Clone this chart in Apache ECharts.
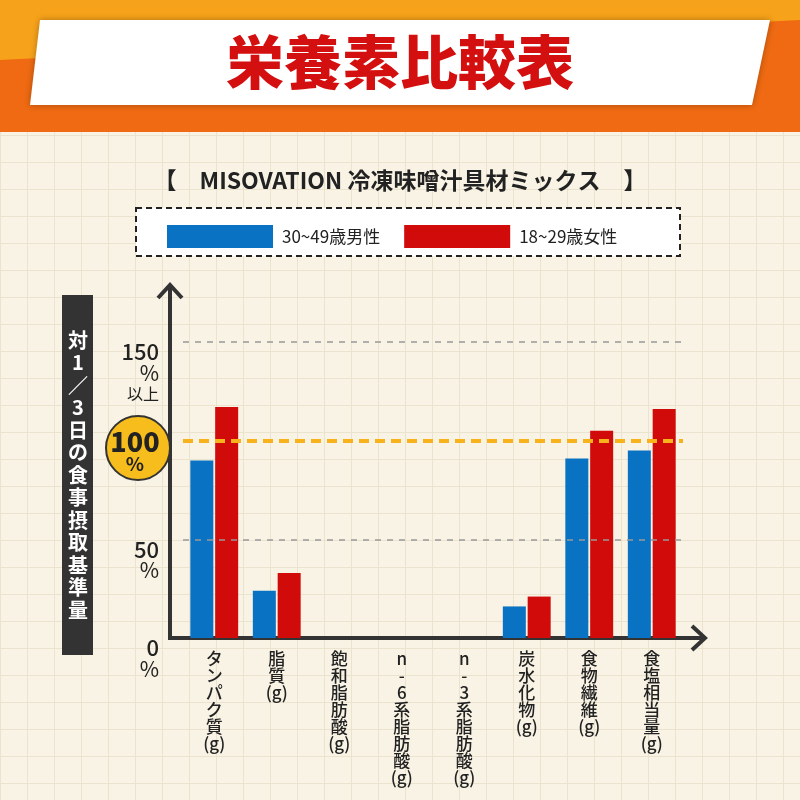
<!DOCTYPE html>
<html><head><meta charset="utf-8">
<script src="https://cdn.jsdelivr.net/npm/echarts@6/dist/echarts.min.js"></script>
<style>
html,body{margin:0;padding:0;}
#c{width:800px;height:800px;background-color:#f8f3e4;
background-image:linear-gradient(#ece3cf 1px,transparent 1px),linear-gradient(90deg,#ece3cf 1px,transparent 1px);
background-size:27px 27px;}
</style></head><body><div id="c"></div>
<script>
const categories=['タンパク質(g)','脂質(g)','飽和脂肪酸(g)','n-6系脂肪酸(g)','n-3系脂肪酸(g)','炭水化物(g)','食物繊維(g)','食塩相当量(g)'];
const male=[90,24,0,0,0,16,91,95];
const female=[117,33,0,0,0,21,105,116];
const yTicks=[0,50,100,150];
const seriesNames=['30~49歳男性','18~29歳女性'];
const F='"Noto Sans CJK JP",sans-serif';
const ch=echarts.init(document.getElementById('c'));
function vert(s){const m=s.match(/^(.*)(\(g\))$/);const body=m?m[1]:s;const arr=body.split('');if(m)arr.push('(g)');return arr.join('\n');}
ch.setOption({
 textStyle:{fontFamily:F},
 animation:false,
 grid:{left:183,right:117,top:342,bottom:162},
 legend:{left:162,top:220,itemWidth:106,itemHeight:23,itemGap:24,icon:'rect',
  textStyle:{fontSize:17,color:'#222',fontFamily:F,padding:[0,0,0,4]},data:seriesNames},
 xAxis:{type:'category',data:categories,axisLine:{show:false},axisTick:{show:false},
  axisLabel:{formatter:vert,fontSize:17,fontWeight:500,color:'#222',lineHeight:17,verticalAlign:'top',margin:12,interval:0}},
 yAxis:{type:'value',min:0,max:150,interval:50,splitLine:{show:false},axisLine:{show:false},axisTick:{show:false},
  axisLabel:{margin:24,verticalAlign:'top',color:'#222',
   formatter:v=>v===100?'':(v===150?'{n|150}\n{p|%}\n{s|以上}':'{n|'+v+'}\n{p|%}'),
   rich:{n:{fontSize:22,fontWeight:500,color:'#222',align:'right',lineHeight:20},p:{fontSize:21,color:'#222',align:'right',lineHeight:22},s:{fontSize:16,color:'#222',align:'right',lineHeight:20}}}},
 series:[
  {name:seriesNames[0],type:'bar',data:male,barWidth:23,barGap:'8%',itemStyle:{color:'#0a72c2'},
   markLine:{silent:true,symbol:'none',label:{show:false},data:[
    {yAxis:yTicks[1],lineStyle:{color:'#999',type:[6,6],width:1.5}},
    {yAxis:yTicks[3],lineStyle:{color:'#999',type:[6,6],width:1.5}},
    {yAxis:yTicks[2],lineStyle:{color:'#f7b21c',type:[10,6],width:4}}]}},
  {name:seriesNames[1],type:'bar',data:female,barWidth:23,itemStyle:{color:'#d10a0a'}}
 ],
 graphic:[
  {type:'rect',shape:{x:0,y:0,width:800,height:132},style:{fill:'#f6a21a'},z:-1},
  {type:'polygon',shape:{points:[[0,60],[800,20],[800,132],[0,132]]},style:{fill:'#ef6a12'},z:-1},
  {type:'polygon',shape:{points:[[40,20],[770,20],[752,105],[30,105]]},style:{fill:'#fff',shadowBlur:6,shadowColor:'rgba(0,0,0,0.3)'}},
  {type:'text',x:400,y:62,style:{text:'栄養素比較表',fill:'#d40f0f',font:'900 58px '+F,align:'center',verticalAlign:'middle'}},
  {type:'text',x:400,y:180,style:{text:'【　MISOVATION 冷凍味噌汁具材ミックス　】',fill:'#222',font:'bold 23px '+F,align:'center',verticalAlign:'middle'}},
  {type:'rect',shape:{x:136,y:208,width:544,height:48},style:{fill:'#fff',stroke:'#222',lineWidth:2,lineDash:[6,4]},z:-1},
  {type:'rect',shape:{x:62,y:295,width:31,height:360},style:{fill:'#333'}},
  {type:'text',x:78,y:475,style:{text:'対\n1\n∕\n3\n日\nの\n食\n事\n摂\n取\n基\n準\n量',fill:'#fff',font:'bold 20px '+F,lineHeight:22.5,align:'center',verticalAlign:'middle'}},
  {type:'polyline',shape:{points:[[170,285],[170,638],[705,638]]},style:{stroke:'#333',lineWidth:4,fill:null}},
  {type:'polyline',shape:{points:[[158,298],[170,285],[182,298]]},style:{stroke:'#333',lineWidth:4,fill:null}},
  {type:'polyline',shape:{points:[[692,626],[705,638],[692,650]]},style:{stroke:'#333',lineWidth:4,fill:null}},
  {type:'circle',shape:{cx:138,cy:448,r:32},style:{fill:'#f7bd1c',stroke:'#333',lineWidth:2}},
  {type:'text',x:135,y:452,style:{text:'{a|100}\n{b|%}',align:'center',verticalAlign:'middle',rich:{a:{font:'900 27px '+F,fill:'#222',lineHeight:24,align:'center'},b:{font:'bold 19px '+F,fill:'#222',lineHeight:20,align:'center'}}}}
 ]
});
</script></body></html>
